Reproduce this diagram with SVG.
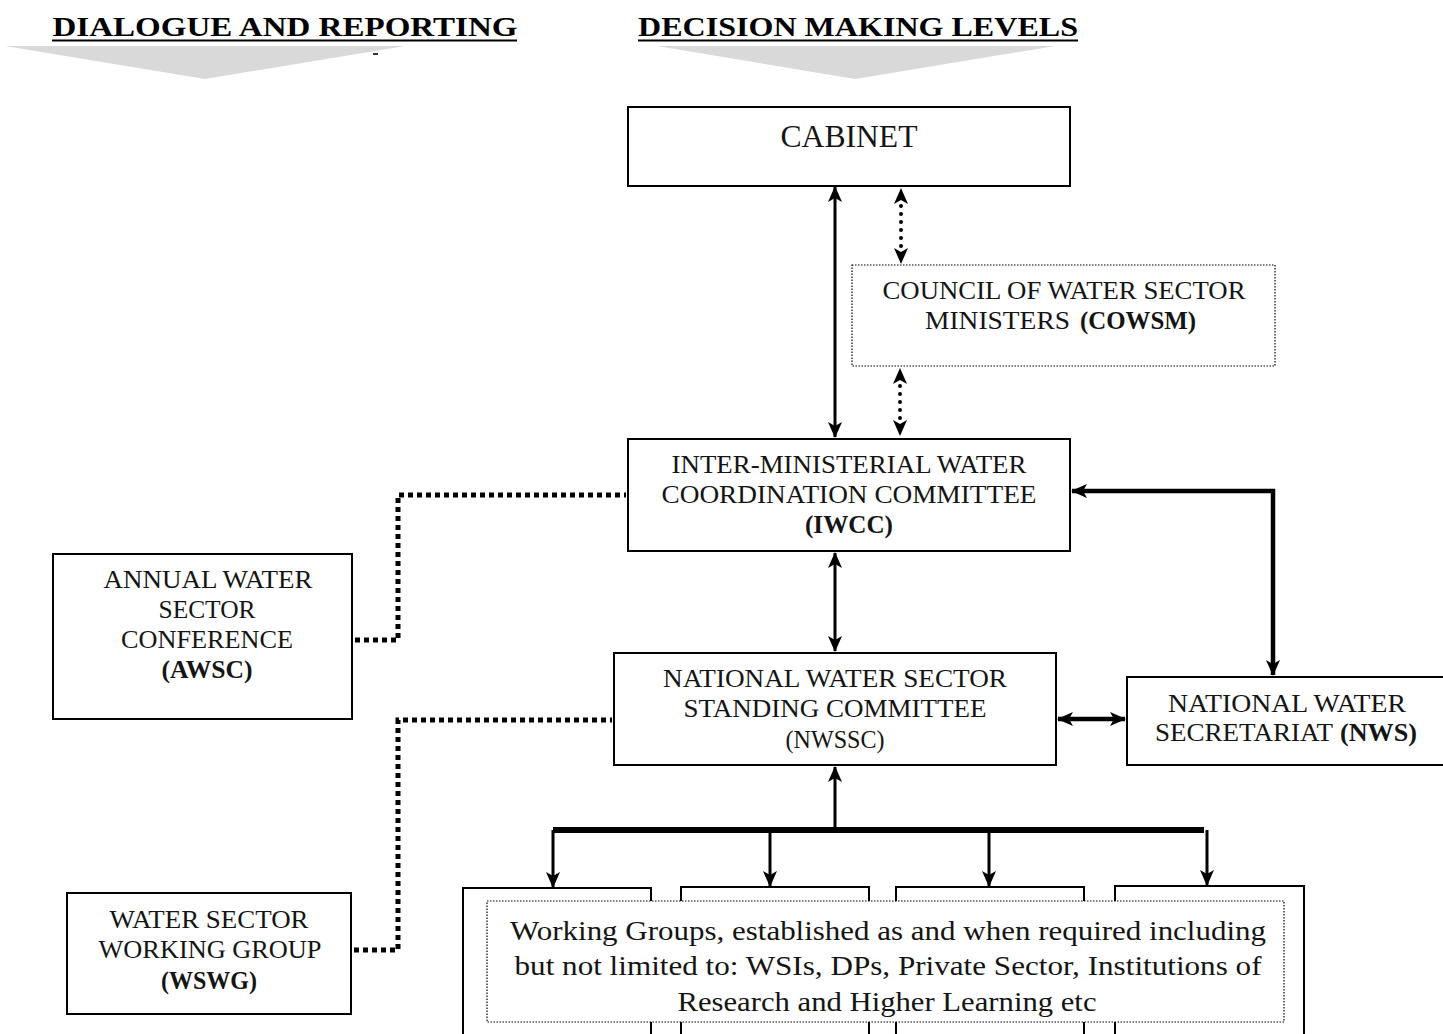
<svg xmlns="http://www.w3.org/2000/svg" width="1443" height="1034" viewBox="0 0 1443 1034">
<style>
  .t{font-family:"Liberation Serif","Times New Roman",serif;fill:#141414;text-anchor:middle;font-size:25px}
  .s{text-anchor:start}
  .h{font-family:"Liberation Serif","Times New Roman",serif;font-weight:bold;font-size:28px;fill:#000;text-anchor:middle}
  .b{font-weight:bold}
  .box{fill:#fff;stroke:#000;stroke-width:2}
  .dbox{fill:#fff;stroke:#000;stroke-width:1.2;stroke-dasharray:1.5 1.5}
  .sol{fill:none;stroke:#000;stroke-width:3}
  .dot{fill:none;stroke:#000;stroke-width:4;stroke-linecap:round;stroke-dasharray:0 8}
  .sq{fill:none;stroke:#000;stroke-width:5;stroke-dasharray:5 4}
</style>
<defs>
  <marker id="ah" markerUnits="userSpaceOnUse" markerWidth="16" markerHeight="14" refX="15" refY="7" orient="auto-start-reverse">
    <path d="M0,0 L16,7 L0,14 L4,7 z" fill="#000"/>
  </marker>
  <clipPath id="wgclip"><rect x="487" y="900" width="797" height="117"/></clipPath>
</defs>
<rect width="1443" height="1034" fill="#fff"/>

<g id="headers">
  <polygon points="5,46 405,46 205,79" fill="#d9d9d9"/>
  <polygon points="657,46 1055,46 855,79" fill="#d9d9d9"/>
  <rect x="373" y="53" width="5" height="2" fill="#333"/>
  <text class="h" x="285" y="36" textLength="465" lengthAdjust="spacingAndGlyphs">DIALOGUE AND REPORTING</text>
  <line x1="52" y1="40.5" x2="517" y2="40.5" stroke="#000" stroke-width="2"/>
  <text class="h" x="858" y="36" textLength="440" lengthAdjust="spacingAndGlyphs">DECISION MAKING LEVELS</text>
  <line x1="638" y1="40.5" x2="1078" y2="40.5" stroke="#000" stroke-width="2"/>
</g>

<g id="connectors">
  <line class="sol" x1="835" y1="187" x2="835" y2="437" marker-start="url(#ah)" marker-end="url(#ah)"/>
  <line class="dot" x1="901" y1="198" x2="901" y2="254"/>
  <path d="M894,204 L901,188 L908,204 L901,200z M894,248 L901,264 L908,248 L901,252z" fill="#000"/>
  <line class="dot" x1="900" y1="378" x2="900" y2="426"/>
  <path d="M893,384 L900,368 L907,384 L900,380z M893,420 L900,436 L907,420 L900,424z" fill="#000"/>
  <line class="sol" x1="835" y1="553" x2="835" y2="651" marker-start="url(#ah)" marker-end="url(#ah)"/>
  <polyline class="sol" points="1273,675 1273,491 1072,491" style="stroke-width:4.5" marker-start="url(#ah)" marker-end="url(#ah)"/>
  <line class="sol" x1="1058" y1="719" x2="1125" y2="719" style="stroke-width:4.5" marker-start="url(#ah)" marker-end="url(#ah)"/>
  <line class="sol" x1="835" y1="830" x2="835" y2="767" marker-end="url(#ah)"/>
  <line x1="553" y1="830" x2="1204" y2="830" stroke="#000" stroke-width="6"/>
  <line class="sol" x1="553" y1="830" x2="553" y2="887" marker-end="url(#ah)"/>
  <line class="sol" x1="770" y1="830" x2="770" y2="886" marker-end="url(#ah)"/>
  <line class="sol" x1="989" y1="830" x2="989" y2="886" marker-end="url(#ah)"/>
  <line class="sol" x1="1207" y1="830" x2="1207" y2="885" marker-end="url(#ah)"/>
  <polyline class="sq" points="355,640 398,640 398,495 626,495"/>
  <polyline class="sq" points="354,950 398,950 398,720 612,720"/>
</g>

<g id="cabinet">
  <rect class="box" x="628" y="107" width="442" height="79"/>
  <text class="t" x="849" y="147" style="font-size:31px" textLength="137" lengthAdjust="spacingAndGlyphs">CABINET</text>
</g>

<g id="cowsm">
  <rect class="dbox" x="852" y="265" width="423" height="101"/>
  <text class="t" x="1064" y="299" textLength="363" lengthAdjust="spacingAndGlyphs">COUNCIL OF WATER SECTOR</text>
  <text class="t s" x="925" y="329" textLength="145" lengthAdjust="spacingAndGlyphs">MINISTERS</text>
  <text class="t s b" x="1080" y="329" textLength="116" lengthAdjust="spacingAndGlyphs">(COWSM)</text>
</g>

<g id="iwcc">
  <rect class="box" x="628" y="439" width="442" height="112"/>
  <text class="t" x="849" y="473" textLength="355" lengthAdjust="spacingAndGlyphs">INTER-MINISTERIAL WATER</text>
  <text class="t" x="849" y="503" textLength="375" lengthAdjust="spacingAndGlyphs">COORDINATION COMMITTEE</text>
  <text class="t b" x="849" y="533" textLength="88" lengthAdjust="spacingAndGlyphs">(IWCC)</text>
</g>

<g id="nwssc">
  <rect class="box" x="614" y="653" width="442" height="112"/>
  <text class="t" x="835" y="687" textLength="344" lengthAdjust="spacingAndGlyphs">NATIONAL WATER SECTOR</text>
  <text class="t" x="835" y="717" textLength="303" lengthAdjust="spacingAndGlyphs">STANDING COMMITTEE</text>
  <text class="t" x="835" y="748" textLength="99" lengthAdjust="spacingAndGlyphs">(NWSSC)</text>
</g>

<g id="nws">
  <rect class="box" x="1127" y="677" width="320" height="88"/>
  <text class="t" x="1287" y="712" textLength="238" lengthAdjust="spacingAndGlyphs">NATIONAL WATER</text>
  <text class="t s" x="1155" y="741" textLength="178" lengthAdjust="spacingAndGlyphs">SECRETARIAT</text>
  <text class="t s b" x="1340" y="741" textLength="77" lengthAdjust="spacingAndGlyphs">(NWS)</text>
</g>

<g id="awsc">
  <rect class="box" x="53" y="554" width="299" height="165"/>
  <text class="t" x="208" y="588" textLength="209" lengthAdjust="spacingAndGlyphs">ANNUAL WATER</text>
  <text class="t" x="207" y="618" textLength="97" lengthAdjust="spacingAndGlyphs">SECTOR</text>
  <text class="t" x="207" y="648" textLength="172" lengthAdjust="spacingAndGlyphs">CONFERENCE</text>
  <text class="t b" x="207" y="678" textLength="91" lengthAdjust="spacingAndGlyphs">(AWSC)</text>
</g>

<g id="wswg">
  <rect class="box" x="67" y="893" width="284" height="121"/>
  <text class="t" x="209" y="928" textLength="199" lengthAdjust="spacingAndGlyphs">WATER SECTOR</text>
  <text class="t" x="210" y="958" textLength="223" lengthAdjust="spacingAndGlyphs">WORKING GROUP</text>
  <text class="t b" x="209" y="989" textLength="96" lengthAdjust="spacingAndGlyphs">(WSWG)</text>
</g>

<g id="wg-boxes">
  <rect class="box" x="463" y="888" width="188" height="160"/>
  <rect class="box" x="681" y="887" width="188" height="160"/>
  <rect class="box" x="896" y="887" width="188" height="160"/>
  <rect class="box" x="1115" y="886" width="189" height="160"/>
</g>

<g id="working-groups">
  <rect class="dbox" x="487" y="901" width="797" height="121"/>
  <g clip-path="url(#wgclip)">
    <text class="t" x="888" y="940" style="font-size:28px" textLength="756" lengthAdjust="spacingAndGlyphs">Working Groups, established as and when required including</text>
    <text class="t" x="888" y="975" style="font-size:28px" textLength="747" lengthAdjust="spacingAndGlyphs">but not limited to: WSIs, DPs, Private Sector, Institutions of</text>
    <text class="t" x="887" y="1011" style="font-size:28px" textLength="419" lengthAdjust="spacingAndGlyphs">Research and Higher Learning etc</text>
  </g>
</g>
</svg>
